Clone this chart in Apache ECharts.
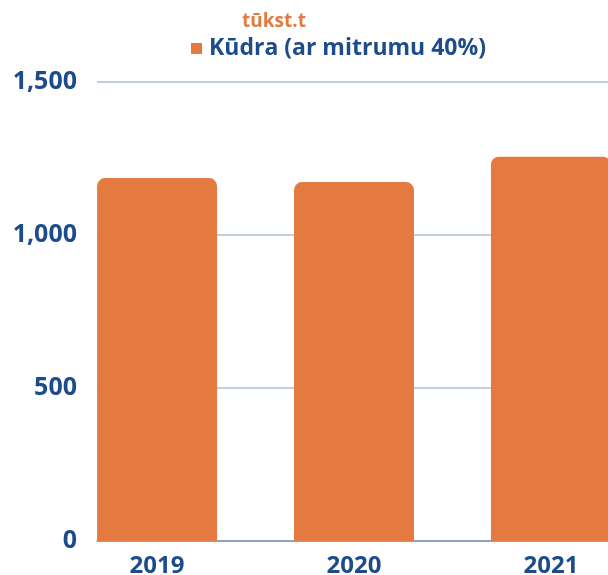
<!DOCTYPE html>
<html>
<head>
<meta charset="utf-8">
<script src="https://cdn.jsdelivr.net/npm/echarts@6/dist/echarts.min.js"></script>
<style>
  html, body { margin: 0; padding: 0; background: #fff; }
  #chart { width: 608px; height: 575px; }
</style>
</head>
<body>
<div id="chart"></div>
<script>
// data
const years = ['2019', '2020', '2021'];
const peat = [1186, 1173, 1256];
const yTicks = [0, 500, 1000, 1500];
const seriesName = 'Kūdra (ar mitrumu 40%)';
const unitLabel = 'tūkst.t';

const orange = '#E57A40';
const navy = '#1D4C8A';
const font = '"Open Sans", "Noto Sans", sans-serif';

const chart = echarts.init(document.getElementById('chart'));

chart.setOption({
  animation: false,
  title: {
    text: unitLabel,
    left: 237,
    top: 7,
    textStyle: { color: orange, fontSize: 19, fontWeight: 'bold', fontFamily: font }
  },
  legend: {
    data: [seriesName],
    left: 186,
    top: 32,
    icon: 'rect',
    itemWidth: 11,
    itemHeight: 11,
    itemGap: 10,
    textStyle: { color: navy, fontSize: 23, fontWeight: 'bold', fontFamily: font, padding: [0, 0, 0, 2] }
  },
  grid: {
    left: 97,
    right: -3,
    top: 82,
    bottom: 34,
    containLabel: false,
    outerBoundsMode: 'none'
  },
  xAxis: {
    type: 'value',
    min: -0.305,
    max: 2.305,
    splitLine: { show: false },
    axisTick: { show: false },
    axisLine: { show: true, lineStyle: { color: '#7896BB', width: 1.5 } },
    axisLabel: {
      customValues: years.map((y, i) => i),
      formatter: v => years[Math.round(v)],
      color: navy,
      fontSize: 24,
      fontWeight: 'bold',
      fontFamily: font,
      margin: 13
    }
  },
  yAxis: {
    type: 'value',
    min: yTicks[0],
    max: yTicks[yTicks.length - 1],
    interval: yTicks[1] - yTicks[0],
    axisLine: { show: false },
    axisTick: { show: false },
    splitLine: { lineStyle: { color: '#C3CFDF', width: 1.8 } },
    axisLabel: {
      formatter: v => v.toLocaleString('en-US'),
      color: navy,
      fontSize: 25,
      fontWeight: 'bold',
      fontFamily: font,
      margin: 20
    }
  },
  series: [{
    name: seriesName,
    type: 'bar',
    barWidth: 120,
    data: peat.map((v, i) => [i, v]),
    itemStyle: { color: orange, borderRadius: [8, 8, 0, 0] }
  }]
});
</script>
</body>
</html>
